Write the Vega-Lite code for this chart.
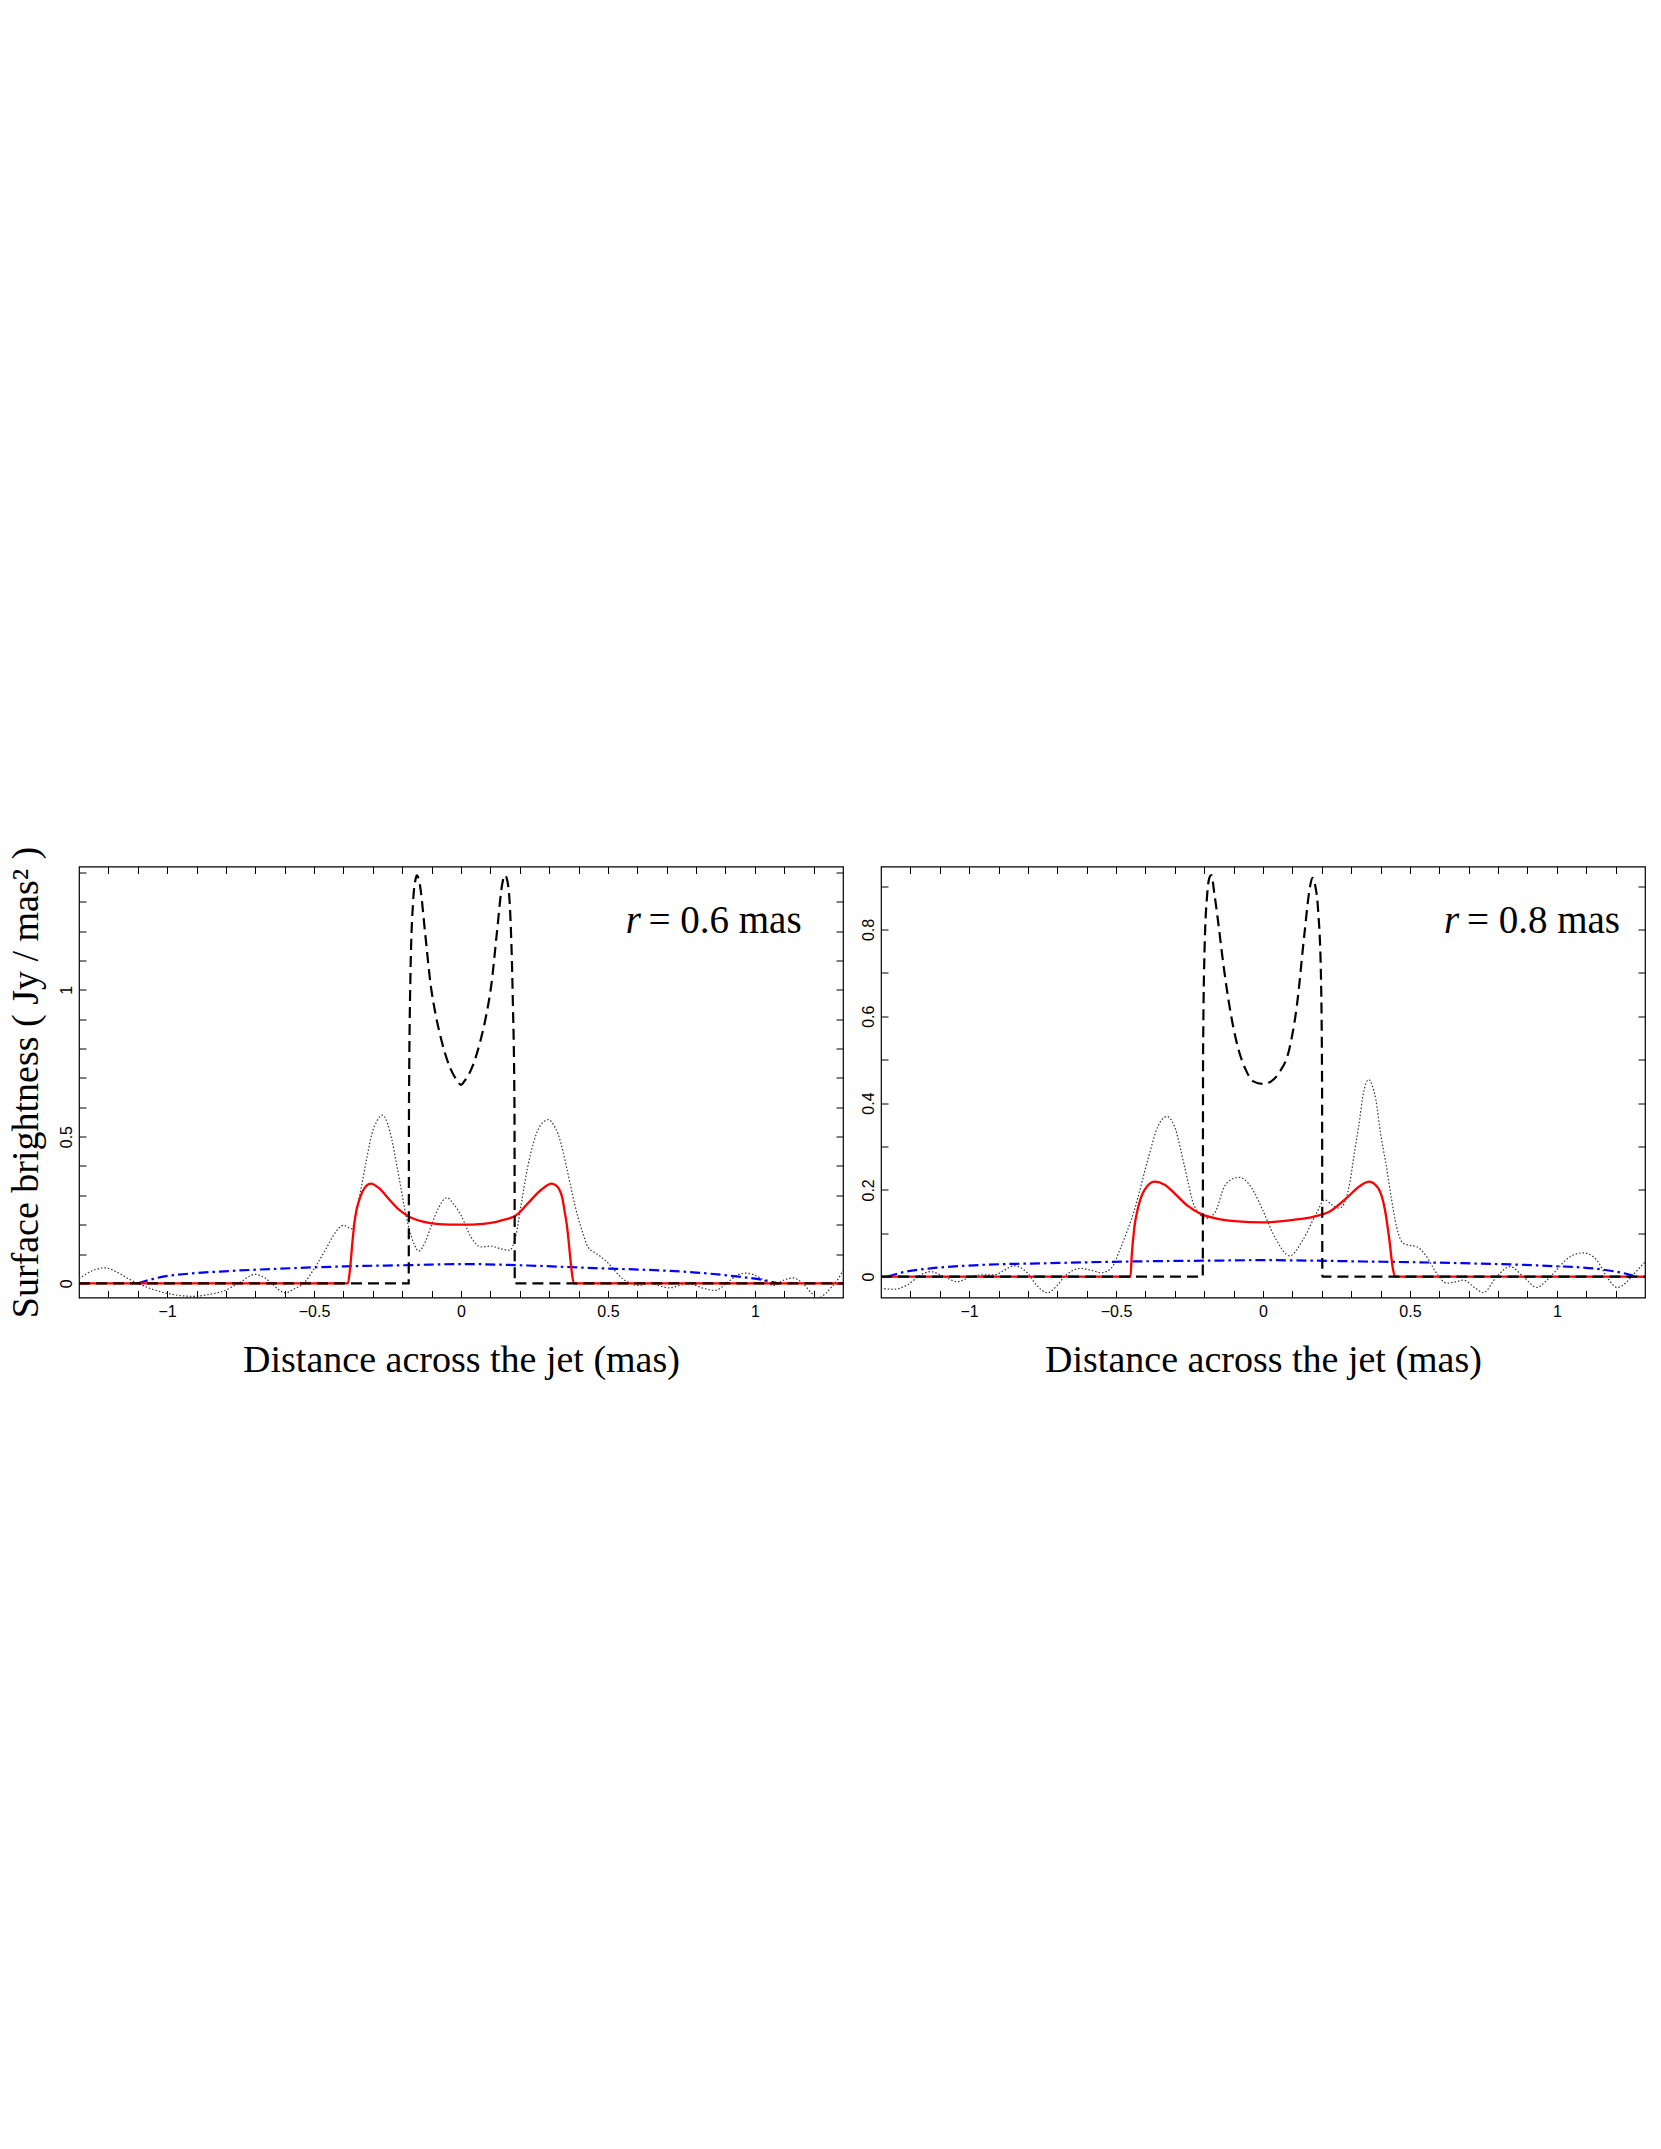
{
  "$schema": "https://vega.github.io/schema/vega-lite/v6.json",
  "background": "white",
  "padding": {"left": 6, "top": 845.5, "right": 0, "bottom": 0},
  "config": {
    "view": {"stroke": "black", "strokeWidth": 1.2},
    "axis": {"grid": false, "domain": false, "tickColor": "black", "tickWidth": 1, "tickSize": -7,
      "labelFont": "Liberation Sans", "labelFontSize": 16, "labelColor": "black", "labelFlush": false, "labelOverlap": false,
      "titleFont": "Liberation Serif", "titleFontSize": 38, "titleFontWeight": "normal", "titleColor": "black"}
  },
  "datasets": {
    "curves": [
      {"p":"L","s":"obs","x":-1.30,"y":0.016},{"p":"L","s":"obs","x":-1.25,"y":0.045},{"p":"L","s":"obs","x":-1.212,"y":0.053},{"p":"L","s":"obs","x":-1.17,"y":0.038},{"p":"L","s":"obs","x":-1.13,"y":0.015},{"p":"L","s":"obs","x":-1.099,"y":0},{"p":"L","s":"obs","x":-1.05,"y":-0.02},{"p":"L","s":"obs","x":-1.0,"y":-0.034},{"p":"L","s":"obs","x":-0.95,"y":-0.042},{"p":"L","s":"obs","x":-0.906,"y":-0.044},{"p":"L","s":"obs","x":-0.86,"y":-0.038},{"p":"L","s":"obs","x":-0.803,"y":-0.024},{"p":"L","s":"obs","x":-0.75,"y":0.005},{"p":"L","s":"obs","x":-0.701,"y":0.031},{"p":"L","s":"obs","x":-0.67,"y":0.02},{"p":"L","s":"obs","x":-0.644,"y":0},{"p":"L","s":"obs","x":-0.62,"y":-0.022},{"p":"L","s":"obs","x":-0.597,"y":-0.032},{"p":"L","s":"obs","x":-0.57,"y":-0.02},{"p":"L","s":"obs","x":-0.531,"y":0.005},{"p":"L","s":"obs","x":-0.50,"y":0.05},{"p":"L","s":"obs","x":-0.462,"y":0.113},{"p":"L","s":"obs","x":-0.43,"y":0.17},{"p":"L","s":"obs","x":-0.40,"y":0.198},{"p":"L","s":"obs","x":-0.372,"y":0.186},{"p":"L","s":"obs","x":-0.355,"y":0.25},{"p":"L","s":"obs","x":-0.337,"y":0.34},{"p":"L","s":"obs","x":-0.32,"y":0.43},{"p":"L","s":"obs","x":-0.303,"y":0.51},{"p":"L","s":"obs","x":-0.285,"y":0.555},{"p":"L","s":"obs","x":-0.267,"y":0.573},{"p":"L","s":"obs","x":-0.25,"y":0.545},{"p":"L","s":"obs","x":-0.235,"y":0.488},{"p":"L","s":"obs","x":-0.22,"y":0.41},{"p":"L","s":"obs","x":-0.207,"y":0.34},{"p":"L","s":"obs","x":-0.193,"y":0.26},{"p":"L","s":"obs","x":-0.178,"y":0.192},{"p":"L","s":"obs","x":-0.16,"y":0.135},{"p":"L","s":"obs","x":-0.144,"y":0.110},{"p":"L","s":"obs","x":-0.12,"y":0.145},{"p":"L","s":"obs","x":-0.099,"y":0.203},{"p":"L","s":"obs","x":-0.075,"y":0.26},{"p":"L","s":"obs","x":-0.048,"y":0.292},{"p":"L","s":"obs","x":-0.025,"y":0.27},{"p":"L","s":"obs","x":0.0,"y":0.232},{"p":"L","s":"obs","x":0.034,"y":0.158},{"p":"L","s":"obs","x":0.068,"y":0.124},{"p":"L","s":"obs","x":0.102,"y":0.127},{"p":"L","s":"obs","x":0.135,"y":0.118},{"p":"L","s":"obs","x":0.165,"y":0.113},{"p":"L","s":"obs","x":0.188,"y":0.169},{"p":"L","s":"obs","x":0.205,"y":0.27},{"p":"L","s":"obs","x":0.227,"y":0.397},{"p":"L","s":"obs","x":0.247,"y":0.48},{"p":"L","s":"obs","x":0.267,"y":0.533},{"p":"L","s":"obs","x":0.298,"y":0.558},{"p":"L","s":"obs","x":0.315,"y":0.54},{"p":"L","s":"obs","x":0.330,"y":0.51},{"p":"L","s":"obs","x":0.347,"y":0.45},{"p":"L","s":"obs","x":0.364,"y":0.374},{"p":"L","s":"obs","x":0.38,"y":0.3},{"p":"L","s":"obs","x":0.398,"y":0.226},{"p":"L","s":"obs","x":0.415,"y":0.17},{"p":"L","s":"obs","x":0.432,"y":0.124},{"p":"L","s":"obs","x":0.455,"y":0.105},{"p":"L","s":"obs","x":0.477,"y":0.09},{"p":"L","s":"obs","x":0.50,"y":0.07},{"p":"L","s":"obs","x":0.523,"y":0.044},{"p":"L","s":"obs","x":0.545,"y":0.02},{"p":"L","s":"obs","x":0.568,"y":0.005},{"p":"L","s":"obs","x":0.602,"y":-0.007},{"p":"L","s":"obs","x":0.648,"y":0},{"p":"L","s":"obs","x":0.68,"y":-0.01},{"p":"L","s":"obs","x":0.710,"y":-0.015},{"p":"L","s":"obs","x":0.74,"y":-0.008},{"p":"L","s":"obs","x":0.773,"y":0},{"p":"L","s":"obs","x":0.82,"y":-0.015},{"p":"L","s":"obs","x":0.864,"y":-0.024},{"p":"L","s":"obs","x":0.909,"y":0.005},{"p":"L","s":"obs","x":0.94,"y":0.028},{"p":"L","s":"obs","x":0.966,"y":0.035},{"p":"L","s":"obs","x":0.995,"y":0.03},{"p":"L","s":"obs","x":1.023,"y":0.016},{"p":"L","s":"obs","x":1.063,"y":-0.007},{"p":"L","s":"obs","x":1.10,"y":0.012},{"p":"L","s":"obs","x":1.131,"y":0.019},{"p":"L","s":"obs","x":1.15,"y":0.01},{"p":"L","s":"obs","x":1.170,"y":-0.007},{"p":"L","s":"obs","x":1.195,"y":-0.035},{"p":"L","s":"obs","x":1.216,"y":-0.049},{"p":"L","s":"obs","x":1.24,"y":-0.035},{"p":"L","s":"obs","x":1.261,"y":-0.0125},{"p":"L","s":"obs","x":1.28,"y":0.01},{"p":"L","s":"obs","x":1.30,"y":0.044},

      {"p":"L","s":"conv","x":-1.3,"y":0},{"p":"L","s":"conv","x":-0.385,"y":0},{"p":"L","s":"conv","x":-0.377,"y":0.056},{"p":"L","s":"conv","x":-0.369,"y":0.147},{"p":"L","s":"conv","x":-0.36,"y":0.226},{"p":"L","s":"conv","x":-0.343,"y":0.294},{"p":"L","s":"conv","x":-0.326,"y":0.328},{"p":"L","s":"conv","x":-0.307,"y":0.340},{"p":"L","s":"conv","x":-0.281,"y":0.326},{"p":"L","s":"conv","x":-0.247,"y":0.289},{"p":"L","s":"conv","x":-0.212,"y":0.252},{"p":"L","s":"conv","x":-0.178,"y":0.228},{"p":"L","s":"conv","x":-0.133,"y":0.211},{"p":"L","s":"conv","x":-0.076,"y":0.202},{"p":"L","s":"conv","x":0,"y":0.2},{"p":"L","s":"conv","x":0.076,"y":0.203},{"p":"L","s":"conv","x":0.12,"y":0.21},{"p":"L","s":"conv","x":0.148,"y":0.217},{"p":"L","s":"conv","x":0.1875,"y":0.232},{"p":"L","s":"conv","x":0.227,"y":0.272},{"p":"L","s":"conv","x":0.273,"y":0.319},{"p":"L","s":"conv","x":0.309,"y":0.34},{"p":"L","s":"conv","x":0.325,"y":0.332},{"p":"L","s":"conv","x":0.335,"y":0.319},{"p":"L","s":"conv","x":0.345,"y":0.29},{"p":"L","s":"conv","x":0.352,"y":0.249},{"p":"L","s":"conv","x":0.36,"y":0.2},{"p":"L","s":"conv","x":0.366,"y":0.147},{"p":"L","s":"conv","x":0.375,"y":0.056},{"p":"L","s":"conv","x":0.384,"y":0},{"p":"L","s":"conv","x":1.3,"y":0},

      {"p":"L","s":"beam","x":-1.099,"y":0},{"p":"L","s":"beam","x":-1.06,"y":0.012},{"p":"L","s":"beam","x":-1.019,"y":0.022},{"p":"L","s":"beam","x":-0.928,"y":0.033},{"p":"L","s":"beam","x":-0.792,"y":0.042},{"p":"L","s":"beam","x":-0.622,"y":0.05},{"p":"L","s":"beam","x":-0.394,"y":0.058},{"p":"L","s":"beam","x":-0.167,"y":0.0625},{"p":"L","s":"beam","x":0,"y":0.066},{"p":"L","s":"beam","x":0.227,"y":0.061},{"p":"L","s":"beam","x":0.455,"y":0.052},{"p":"L","s":"beam","x":0.682,"y":0.044},{"p":"L","s":"beam","x":0.80,"y":0.037},{"p":"L","s":"beam","x":0.909,"y":0.027},{"p":"L","s":"beam","x":0.97,"y":0.02},{"p":"L","s":"beam","x":1.023,"y":0.0125},{"p":"L","s":"beam","x":1.08,"y":0},

      {"p":"L","s":"model","x":-1.3,"y":0},{"p":"L","s":"model","x":-0.178,"y":0},{"p":"L","s":"model","x":-0.177,"y":0.6},{"p":"L","s":"model","x":-0.172,"y":1.05},{"p":"L","s":"model","x":-0.163,"y":1.3},{"p":"L","s":"model","x":-0.155,"y":1.375},{"p":"L","s":"model","x":-0.15,"y":1.39},{"p":"L","s":"model","x":-0.141,"y":1.364},{"p":"L","s":"model","x":-0.122,"y":1.193},{"p":"L","s":"model","x":-0.104,"y":1.023},{"p":"L","s":"model","x":-0.085,"y":0.909},{"p":"L","s":"model","x":-0.067,"y":0.83},{"p":"L","s":"model","x":-0.039,"y":0.739},{"p":"L","s":"model","x":-0.011,"y":0.688},{"p":"L","s":"model","x":0,"y":0.676},{"p":"L","s":"model","x":0.011,"y":0.688},{"p":"L","s":"model","x":0.039,"y":0.739},{"p":"L","s":"model","x":0.067,"y":0.83},{"p":"L","s":"model","x":0.085,"y":0.909},{"p":"L","s":"model","x":0.104,"y":1.023},{"p":"L","s":"model","x":0.122,"y":1.193},{"p":"L","s":"model","x":0.141,"y":1.364},{"p":"L","s":"model","x":0.15,"y":1.39},{"p":"L","s":"model","x":0.158,"y":1.37},{"p":"L","s":"model","x":0.168,"y":1.25},{"p":"L","s":"model","x":0.176,"y":0.98},{"p":"L","s":"model","x":0.182,"y":0.6},{"p":"L","s":"model","x":0.183,"y":0},{"p":"L","s":"model","x":1.3,"y":0},

      {"p":"R","s":"obs","x":-1.301,"y":-0.027},{"p":"R","s":"obs","x":-1.256,"y":-0.029},{"p":"R","s":"obs","x":-1.21,"y":-0.019},{"p":"R","s":"obs","x":-1.165,"y":0.004},{"p":"R","s":"obs","x":-1.131,"y":0.0115},{"p":"R","s":"obs","x":-1.085,"y":0},{"p":"R","s":"obs","x":-1.04,"y":-0.0115},{"p":"R","s":"obs","x":-0.994,"y":0},{"p":"R","s":"obs","x":-0.96,"y":0.004},{"p":"R","s":"obs","x":-0.915,"y":0.004},{"p":"R","s":"obs","x":-0.88,"y":0.015},{"p":"R","s":"obs","x":-0.847,"y":0.025},{"p":"R","s":"obs","x":-0.801,"y":0.008},{"p":"R","s":"obs","x":-0.77,"y":-0.02},{"p":"R","s":"obs","x":-0.733,"y":-0.037},{"p":"R","s":"obs","x":-0.70,"y":-0.02},{"p":"R","s":"obs","x":-0.676,"y":0},{"p":"R","s":"obs","x":-0.619,"y":0.019},{"p":"R","s":"obs","x":-0.58,"y":0.014},{"p":"R","s":"obs","x":-0.551,"y":0.009},{"p":"R","s":"obs","x":-0.517,"y":0.019},{"p":"R","s":"obs","x":-0.483,"y":0.069},{"p":"R","s":"obs","x":-0.4375,"y":0.154},{"p":"R","s":"obs","x":-0.392,"y":0.269},{"p":"R","s":"obs","x":-0.358,"y":0.346},{"p":"R","s":"obs","x":-0.327,"y":0.369},{"p":"R","s":"obs","x":-0.301,"y":0.346},{"p":"R","s":"obs","x":-0.267,"y":0.254},{"p":"R","s":"obs","x":-0.233,"y":0.162},{"p":"R","s":"obs","x":-0.193,"y":0.135},{"p":"R","s":"obs","x":-0.165,"y":0.146},{"p":"R","s":"obs","x":-0.131,"y":0.208},{"p":"R","s":"obs","x":-0.105,"y":0.225},{"p":"R","s":"obs","x":-0.08,"y":0.229},{"p":"R","s":"obs","x":-0.05,"y":0.215},{"p":"R","s":"obs","x":-0.028,"y":0.192},{"p":"R","s":"obs","x":0.001,"y":0.15},{"p":"R","s":"obs","x":0.045,"y":0.085},{"p":"R","s":"obs","x":0.091,"y":0.048},{"p":"R","s":"obs","x":0.136,"y":0.085},{"p":"R","s":"obs","x":0.182,"y":0.146},{"p":"R","s":"obs","x":0.21,"y":0.177},{"p":"R","s":"obs","x":0.235,"y":0.165},{"p":"R","s":"obs","x":0.261,"y":0.158},{"p":"R","s":"obs","x":0.28,"y":0.175},{"p":"R","s":"obs","x":0.295,"y":0.215},{"p":"R","s":"obs","x":0.312,"y":0.29},{"p":"R","s":"obs","x":0.329,"y":0.362},{"p":"R","s":"obs","x":0.338,"y":0.408},{"p":"R","s":"obs","x":0.35,"y":0.445},{"p":"R","s":"obs","x":0.36,"y":0.454},{"p":"R","s":"obs","x":0.372,"y":0.44},{"p":"R","s":"obs","x":0.384,"y":0.408},{"p":"R","s":"obs","x":0.40,"y":0.33},{"p":"R","s":"obs","x":0.42,"y":0.254},{"p":"R","s":"obs","x":0.437,"y":0.18},{"p":"R","s":"obs","x":0.4545,"y":0.115},{"p":"R","s":"obs","x":0.477,"y":0.077},{"p":"R","s":"obs","x":0.50,"y":0.072},{"p":"R","s":"obs","x":0.523,"y":0.069},{"p":"R","s":"obs","x":0.557,"y":0.046},{"p":"R","s":"obs","x":0.591,"y":0.008},{"p":"R","s":"obs","x":0.625,"y":-0.015},{"p":"R","s":"obs","x":0.655,"y":-0.012},{"p":"R","s":"obs","x":0.682,"y":-0.008},{"p":"R","s":"obs","x":0.72,"y":-0.025},{"p":"R","s":"obs","x":0.75,"y":-0.037},{"p":"R","s":"obs","x":0.795,"y":0},{"p":"R","s":"obs","x":0.841,"y":0.023},{"p":"R","s":"obs","x":0.886,"y":0},{"p":"R","s":"obs","x":0.932,"y":-0.025},{"p":"R","s":"obs","x":0.96,"y":-0.012},{"p":"R","s":"obs","x":0.989,"y":0.008},{"p":"R","s":"obs","x":1.045,"y":0.046},{"p":"R","s":"obs","x":1.091,"y":0.055},{"p":"R","s":"obs","x":1.136,"y":0.038},{"p":"R","s":"obs","x":1.17,"y":0},{"p":"R","s":"obs","x":1.205,"y":-0.025},{"p":"R","s":"obs","x":1.239,"y":-0.0115},{"p":"R","s":"obs","x":1.27,"y":0.012},{"p":"R","s":"obs","x":1.302,"y":0.035},

      {"p":"R","s":"conv","x":-1.3,"y":0},{"p":"R","s":"conv","x":-0.451,"y":0},{"p":"R","s":"conv","x":-0.447,"y":0.046},{"p":"R","s":"conv","x":-0.4375,"y":0.115},{"p":"R","s":"conv","x":-0.424,"y":0.162},{"p":"R","s":"conv","x":-0.403,"y":0.2},{"p":"R","s":"conv","x":-0.369,"y":0.219},{"p":"R","s":"conv","x":-0.335,"y":0.212},{"p":"R","s":"conv","x":-0.301,"y":0.192},{"p":"R","s":"conv","x":-0.256,"y":0.163},{"p":"R","s":"conv","x":-0.21,"y":0.144},{"p":"R","s":"conv","x":-0.165,"y":0.135},{"p":"R","s":"conv","x":-0.097,"y":0.128},{"p":"R","s":"conv","x":0,"y":0.125},{"p":"R","s":"conv","x":0.102,"y":0.131},{"p":"R","s":"conv","x":0.17,"y":0.138},{"p":"R","s":"conv","x":0.227,"y":0.15},{"p":"R","s":"conv","x":0.284,"y":0.181},{"p":"R","s":"conv","x":0.33,"y":0.209},{"p":"R","s":"conv","x":0.361,"y":0.219},{"p":"R","s":"conv","x":0.392,"y":0.204},{"p":"R","s":"conv","x":0.415,"y":0.154},{"p":"R","s":"conv","x":0.43,"y":0.085},{"p":"R","s":"conv","x":0.441,"y":0.023},{"p":"R","s":"conv","x":0.449,"y":0},{"p":"R","s":"conv","x":1.3,"y":0},

      {"p":"R","s":"beam","x":-1.278,"y":0},{"p":"R","s":"beam","x":-1.233,"y":0.009},{"p":"R","s":"beam","x":-1.131,"y":0.019},{"p":"R","s":"beam","x":-0.96,"y":0.027},{"p":"R","s":"beam","x":-0.733,"y":0.031},{"p":"R","s":"beam","x":-0.449,"y":0.035},{"p":"R","s":"beam","x":-0.165,"y":0.037},{"p":"R","s":"beam","x":0,"y":0.038},{"p":"R","s":"beam","x":0.341,"y":0.035},{"p":"R","s":"beam","x":0.682,"y":0.031},{"p":"R","s":"beam","x":0.966,"y":0.025},{"p":"R","s":"beam","x":1.136,"y":0.018},{"p":"R","s":"beam","x":1.227,"y":0.008},{"p":"R","s":"beam","x":1.273,"y":0},

      {"p":"R","s":"model","x":-1.3,"y":0},{"p":"R","s":"model","x":-0.205,"y":0},{"p":"R","s":"model","x":-0.204,"y":0.5},{"p":"R","s":"model","x":-0.199,"y":0.75},{"p":"R","s":"model","x":-0.19,"y":0.88},{"p":"R","s":"model","x":-0.182,"y":0.92},{"p":"R","s":"model","x":-0.176,"y":0.925},{"p":"R","s":"model","x":-0.165,"y":0.88},{"p":"R","s":"model","x":-0.155,"y":0.83},{"p":"R","s":"model","x":-0.134,"y":0.715},{"p":"R","s":"model","x":-0.112,"y":0.615},{"p":"R","s":"model","x":-0.086,"y":0.53},{"p":"R","s":"model","x":-0.059,"y":0.477},{"p":"R","s":"model","x":-0.033,"y":0.45},{"p":"R","s":"model","x":0,"y":0.444},{"p":"R","s":"model","x":0.028,"y":0.45},{"p":"R","s":"model","x":0.054,"y":0.469},{"p":"R","s":"model","x":0.089,"y":0.523},{"p":"R","s":"model","x":0.115,"y":0.623},{"p":"R","s":"model","x":0.141,"y":0.79},{"p":"R","s":"model","x":0.158,"y":0.89},{"p":"R","s":"model","x":0.168,"y":0.919},{"p":"R","s":"model","x":0.178,"y":0.9},{"p":"R","s":"model","x":0.188,"y":0.84},{"p":"R","s":"model","x":0.197,"y":0.7},{"p":"R","s":"model","x":0.201,"y":0.45},{"p":"R","s":"model","x":0.202,"y":0},{"p":"R","s":"model","x":1.3,"y":0}
    ],
    "notes": [
      {"p":"L","part":"rest","x":1.159,"y":1.192,"t":"= 0.6 mas"},
      {"p":"L","part":"r","x":0.612,"y":1.192,"t":"r"},
      {"p":"R","part":"rest","x":1.215,"y":0.791,"t":"= 0.8 mas"},
      {"p":"R","part":"r","x":0.668,"y":0.791,"t":"r"}
    ]
  },
  "hconcat": [
    {
      "width": 764, "height": 431,
      "resolve": {"axis": {"x": "independent", "y": "independent"}},
      "layer": [
        {
          "data": {"name": "curves"},
          "transform": [{"filter": "datum.p === 'L' && datum.s === 'obs'"}],
          "mark": {"type": "line", "color": "#333333", "strokeWidth": 1.2, "strokeDash": [1.5, 2], "clip": true, "interpolate": "monotone"},
          "encoding": {
            "x": {"field": "x", "type": "quantitative", "scale": {"domain": [-1.3, 1.3], "nice": false, "zero": false},
              "axis": {"orient": "bottom", "values": [-1.2,-1.1,-1,-0.9,-0.8,-0.7,-0.6,-0.5,-0.4,-0.3,-0.2,-0.1,0,0.1,0.2,0.3,0.4,0.5,0.6,0.7,0.8,0.9,1,1.1,1.2],
                "format": "~g", "labelExpr": "abs(datum.value*2-round(datum.value*2))<1e-6 ? datum.label : ''",
                "labelFontSize": 16, "labelPadding": 13, "title": "Distance across the jet (mas)", "titlePadding": 22}},
            "y": {"field": "y", "type": "quantitative", "scale": {"domain": [-0.048, 1.42], "nice": false, "zero": false},
              "axis": {"orient": "left", "values": [0,0.1,0.2,0.3,0.4,0.5,0.6,0.7,0.8,0.9,1,1.1,1.2,1.3,1.4],
                "format": "~g", "labelExpr": "abs(datum.value*2-round(datum.value*2))<1e-6 ? datum.label : ''",
                "labelFontSize": 16, "labelAngle": -90, "labelAlign": "center", "labelBaseline": "bottom", "labelPadding": 12,
                "title": "Surface brightness ( Jy / mas² )", "titlePadding": 13}}
          }
        },
        {
          "data": {"name": "curves"},
          "transform": [{"filter": "datum.p === 'L' && datum.s === 'beam'"}],
          "mark": {"type": "line", "color": "#0000ff", "strokeWidth": 2.2, "strokeDash": [10, 4, 2.5, 4], "clip": true, "interpolate": "monotone"},
          "encoding": {
            "x": {"field": "x", "type": "quantitative", "scale": {"domain": [-1.3, 1.3], "nice": false, "zero": false},
              "axis": {"orient": "top", "values": [-1.2,-1.1,-1,-0.9,-0.8,-0.7,-0.6,-0.5,-0.4,-0.3,-0.2,-0.1,0,0.1,0.2,0.3,0.4,0.5,0.6,0.7,0.8,0.9,1,1.1,1.2], "labels": false, "title": null}},
            "y": {"field": "y", "type": "quantitative", "scale": {"domain": [-0.048, 1.42], "nice": false, "zero": false},
              "axis": {"orient": "right", "values": [0,0.1,0.2,0.3,0.4,0.5,0.6,0.7,0.8,0.9,1,1.1,1.2,1.3,1.4], "labels": false, "title": null}}
          }
        },
        {
          "data": {"name": "curves"},
          "transform": [{"filter": "datum.p === 'L' && datum.s === 'conv'"}],
          "mark": {"type": "line", "color": "#ff0000", "strokeWidth": 2.3, "clip": true, "interpolate": "monotone"},
          "encoding": {
            "x": {"field": "x", "type": "quantitative", "axis": null},
            "y": {"field": "y", "type": "quantitative", "axis": null}
          }
        },
        {
          "data": {"name": "curves"},
          "transform": [{"filter": "datum.p === 'L' && datum.s === 'model'"}],
          "mark": {"type": "line", "color": "#000000", "strokeWidth": 2.2, "strokeDash": [11, 6], "clip": true, "interpolate": "monotone"},
          "encoding": {
            "x": {"field": "x", "type": "quantitative", "axis": null},
            "y": {"field": "y", "type": "quantitative", "axis": null}
          }
        },
        {
          "data": {"name": "notes"},
          "transform": [{"filter": "datum.p === 'L' && datum.part === 'rest'"}],
          "mark": {"type": "text", "font": "Liberation Serif", "fontSize": 39, "align": "right", "baseline": "alphabetic", "color": "black"},
          "encoding": {
            "x": {"field": "x", "type": "quantitative", "axis": null},
            "y": {"field": "y", "type": "quantitative", "axis": null},
            "text": {"field": "t"}
          }
        },
        {
          "data": {"name": "notes"},
          "transform": [{"filter": "datum.p === 'L' && datum.part === 'r'"}],
          "mark": {"type": "text", "font": "Liberation Serif", "fontSize": 39, "fontStyle": "italic", "align": "right", "baseline": "alphabetic", "color": "black"},
          "encoding": {
            "x": {"field": "x", "type": "quantitative", "axis": null},
            "y": {"field": "y", "type": "quantitative", "axis": null},
            "text": {"field": "t"}
          }
        }
      ]
    },
    {
      "width": 764, "height": 431,
      "resolve": {"axis": {"x": "independent", "y": "independent"}},
      "layer": [
        {
          "data": {"name": "curves"},
          "transform": [{"filter": "datum.p === 'R' && datum.s === 'obs'"}],
          "mark": {"type": "line", "color": "#333333", "strokeWidth": 1.2, "strokeDash": [1.5, 2], "clip": true, "interpolate": "monotone"},
          "encoding": {
            "x": {"field": "x", "type": "quantitative", "scale": {"domain": [-1.3, 1.3], "nice": false, "zero": false},
              "axis": {"orient": "bottom", "values": [-1.2,-1.1,-1,-0.9,-0.8,-0.7,-0.6,-0.5,-0.4,-0.3,-0.2,-0.1,0,0.1,0.2,0.3,0.4,0.5,0.6,0.7,0.8,0.9,1,1.1,1.2],
                "format": "~g", "labelExpr": "abs(datum.value*2-round(datum.value*2))<1e-6 ? datum.label : ''",
                "labelFontSize": 16, "labelPadding": 13, "title": "Distance across the jet (mas)", "titlePadding": 22}},
            "y": {"field": "y", "type": "quantitative", "scale": {"domain": [-0.048, 0.945], "nice": false, "zero": false},
              "axis": {"orient": "left", "values": [0,0.1,0.2,0.3,0.4,0.5,0.6,0.7,0.8,0.9],
                "format": "~g", "labelExpr": "abs(datum.value*5-round(datum.value*5))<1e-6 ? datum.label : ''",
                "labelFontSize": 16, "labelAngle": -90, "labelAlign": "center", "labelBaseline": "bottom", "labelPadding": 12, "title": null}}
          }
        },
        {
          "data": {"name": "curves"},
          "transform": [{"filter": "datum.p === 'R' && datum.s === 'beam'"}],
          "mark": {"type": "line", "color": "#0000ff", "strokeWidth": 2.2, "strokeDash": [10, 4, 2.5, 4], "clip": true, "interpolate": "monotone"},
          "encoding": {
            "x": {"field": "x", "type": "quantitative", "scale": {"domain": [-1.3, 1.3], "nice": false, "zero": false},
              "axis": {"orient": "top", "values": [-1.2,-1.1,-1,-0.9,-0.8,-0.7,-0.6,-0.5,-0.4,-0.3,-0.2,-0.1,0,0.1,0.2,0.3,0.4,0.5,0.6,0.7,0.8,0.9,1,1.1,1.2], "labels": false, "title": null}},
            "y": {"field": "y", "type": "quantitative", "scale": {"domain": [-0.048, 0.945], "nice": false, "zero": false},
              "axis": {"orient": "right", "values": [0,0.1,0.2,0.3,0.4,0.5,0.6,0.7,0.8,0.9], "labels": false, "title": null}}
          }
        },
        {
          "data": {"name": "curves"},
          "transform": [{"filter": "datum.p === 'R' && datum.s === 'conv'"}],
          "mark": {"type": "line", "color": "#ff0000", "strokeWidth": 2.3, "clip": true, "interpolate": "monotone"},
          "encoding": {
            "x": {"field": "x", "type": "quantitative", "axis": null},
            "y": {"field": "y", "type": "quantitative", "axis": null}
          }
        },
        {
          "data": {"name": "curves"},
          "transform": [{"filter": "datum.p === 'R' && datum.s === 'model'"}],
          "mark": {"type": "line", "color": "#000000", "strokeWidth": 2.2, "strokeDash": [11, 6], "clip": true, "interpolate": "monotone"},
          "encoding": {
            "x": {"field": "x", "type": "quantitative", "axis": null},
            "y": {"field": "y", "type": "quantitative", "axis": null}
          }
        },
        {
          "data": {"name": "notes"},
          "transform": [{"filter": "datum.p === 'R' && datum.part === 'rest'"}],
          "mark": {"type": "text", "font": "Liberation Serif", "fontSize": 39, "align": "right", "baseline": "alphabetic", "color": "black"},
          "encoding": {
            "x": {"field": "x", "type": "quantitative", "axis": null},
            "y": {"field": "y", "type": "quantitative", "axis": null},
            "text": {"field": "t"}
          }
        },
        {
          "data": {"name": "notes"},
          "transform": [{"filter": "datum.p === 'R' && datum.part === 'r'"}],
          "mark": {"type": "text", "font": "Liberation Serif", "fontSize": 39, "fontStyle": "italic", "align": "right", "baseline": "alphabetic", "color": "black"},
          "encoding": {
            "x": {"field": "x", "type": "quantitative", "axis": null},
            "y": {"field": "y", "type": "quantitative", "axis": null},
            "text": {"field": "t"}
          }
        }
      ]
    }
  ],
  "spacing": 38,
  "bounds": "flush",
  "resolve": {"scale": {"x": "independent", "y": "independent"}}
}
